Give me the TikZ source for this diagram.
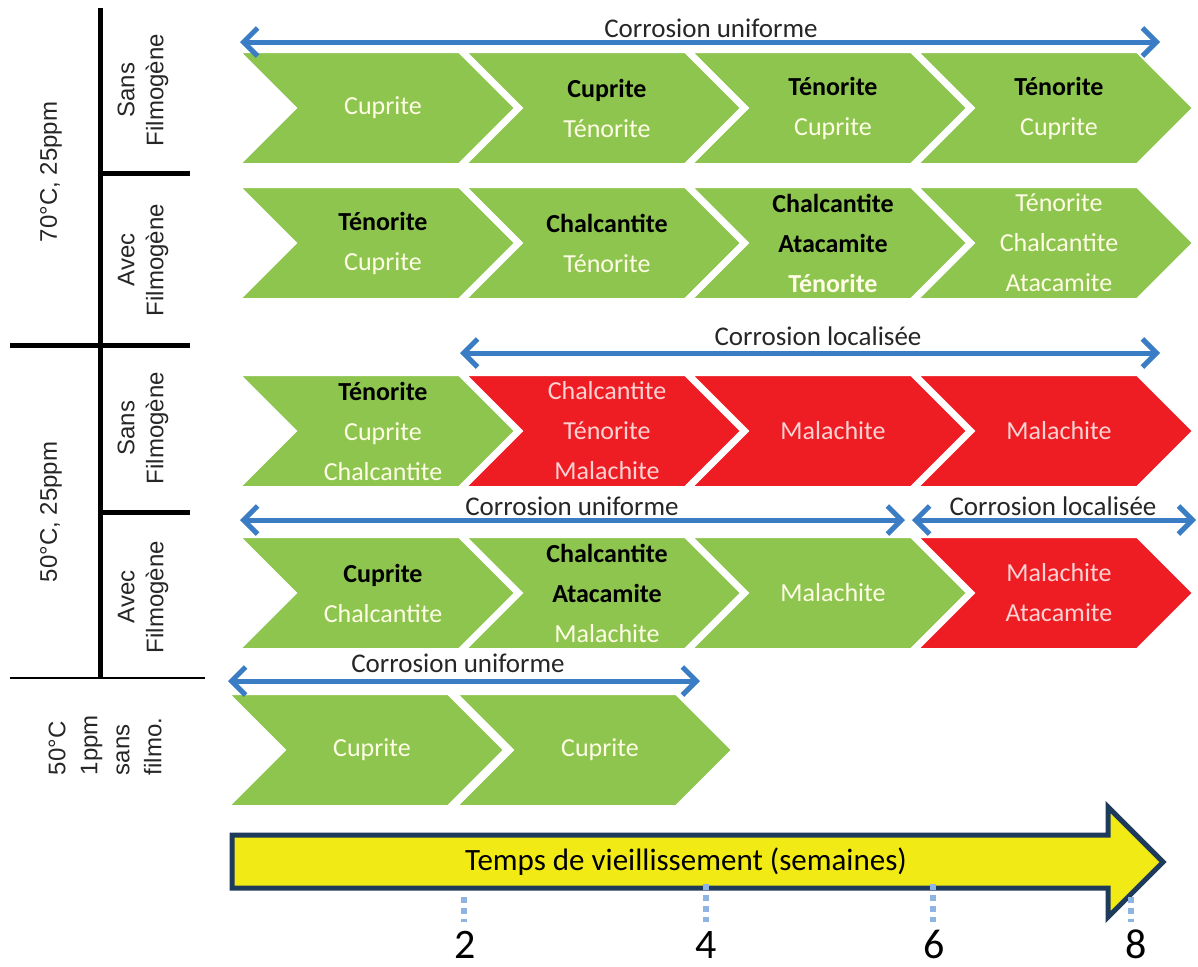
\documentclass[tikz,border=0pt]{standalone}
\usepackage{fontspec}
\setmainfont{Carlito}
\newfontfamily\arialf{Liberation Sans}
\usetikzlibrary{arrows.meta}
\definecolor{chgreen}{HTML}{8DC54F}
\definecolor{chred}{HTML}{EE1D23}
\definecolor{arblue}{HTML}{3B7DC4}
\definecolor{tickblue}{HTML}{8EB4E3}
\definecolor{axyellow}{HTML}{F2EA15}
\definecolor{axnavy}{HTML}{1F3B5C}
\definecolor{paletxt}{HTML}{FFFDE6}
\definecolor{sidegray}{HTML}{262626}

% chevron: left x, centre y, colour
\newcommand\chev[3]{\filldraw[fill=#3,draw=white,line width=1pt]
  (#1,#2-56)--++(219,0)--++(56,56)--++(-56,56)--++(-219,0)--++(56,-56)--cycle;}
\newcommand\bk[1]{{\color{black}\bfseries #1}}

\begin{document}
\begin{tikzpicture}[x=.5pt,y=-.5pt,line width=1pt,
  chtxt/.style={align=center,text=paletxt,font=\fontsize{13}{20}\selectfont},
  redtxt/.style={chtxt,text=white!80!chred},
  side/.style={rotate=90,align=center,text=sidegray,font=\arialf\fontsize{12}{14.5}\selectfont},
  span/.style={arblue,line width=2.5pt,{Straight Barb[length=7pt,width=14pt]}-{Straight Barb[length=7pt,width=14pt]}},
  spanlbl/.style={anchor=base,text=black!85,font=\fontsize{13.5}{16}\selectfont},
  week/.style={anchor=base,inner sep=0pt,font=\fontsize{21}{24}\selectfont}]
\useasboundingbox (0,0) rectangle (1198,966);

% left frame
\draw[line width=2.5pt] (100,8)--(100,678);
\draw[line width=2.5pt] (100,173)--(190,173);
\draw[line width=2.5pt] (10,345)--(190,345);
\draw[line width=2.5pt] (100,512)--(190,512);
\draw[line width=1.2pt] (10,678)--(205,678);
\node[side] (t70) at (51,172) {70°C, 25ppm};
\node[side] (s70) at (143,90) {Sans\\Filmogène};
\node[side] (a70) at (143,260) {Avec\\Filmogène};
\node[side] (t50) at (51,512) {50°C, 25ppm};
\node[side] (s50) at (143,428) {Sans\\Filmogène};
\node[side] (a50) at (143,597) {Avec\\Filmogène};
\node[side,align=left,font=\arialf\fontsize{12}{16}\selectfont] (t1ppm) at (105,745) {50°C\\1ppm\\sans\\filmo.};

% 70C sans
\chev{240}{108}{chgreen}\chev{466}{108}{chgreen}\chev{692}{108}{chgreen}\chev{918}{108}{chgreen}
\node[chtxt] (sa1) at (383,108) {Cuprite};
\node[chtxt] (sa2) at (607,108) {\bk{Cuprite}\\Ténorite};
\node[chtxt] (sa3) at (833,108) {\bk{Ténorite}\\Cuprite};
\node[chtxt] (sa4) at (1059,108) {\bk{Ténorite}\\Cuprite};

% 70C avec
\chev{240}{243}{chgreen}\chev{466}{243}{chgreen}\chev{692}{243}{chgreen}\chev{918}{243}{chgreen}
\node[chtxt] (av1) at (383,243) {\bk{Ténorite}\\Cuprite};
\node[chtxt] (av2) at (607,243) {\bk{Chalcantite}\\Ténorite};
\node[chtxt] (av3) at (833,243) {\bk{Chalcantite}\\\bk{Atacamite}\\\textbf{Ténorite}};
\node[chtxt] (av4) at (1059,243) {Ténorite\\Chalcantite\\Atacamite};

% 50C sans
\chev{240}{431}{chgreen}\chev{466}{431}{chred}\chev{692}{431}{chred}\chev{918}{431}{chred}
\node[chtxt] (sb1) at (383,431) {\bk{Ténorite}\\Cuprite\\Chalcantite};
\node[redtxt] (sb2) at (607,431) {Chalcantite\\Ténorite\\Malachite};
\node[redtxt] (sb3) at (833,431) {Malachite};
\node[redtxt] (sb4) at (1059,431) {Malachite};

% 50C avec
\chev{240}{593}{chgreen}\chev{466}{593}{chgreen}\chev{692}{593}{chgreen}\chev{918}{593}{chred}
\node[chtxt] (ab1) at (383,593) {\bk{Cuprite}\\Chalcantite};
\node[chtxt] (ab2) at (607,593) {\bk{Chalcantite}\\\bk{Atacamite}\\Malachite};
\node[chtxt] (ab3) at (833,593) {Malachite};
\node[redtxt] (ab4) at (1059,593) {Malachite\\Atacamite};

% 50C 1ppm
\chev{229}{750}{chgreen}\chev{457}{750}{chgreen}
\node[chtxt] (pp1) at (372,750) {Cuprite};
\node[chtxt] (pp2) at (600,750) {Cuprite};

% corrosion spans
\coordinate (u1l) at (240,42); \coordinate (u1r) at (1160,42);
\draw[span] (u1l)--(u1r);
\node[spanlbl] (u1) at (711,37) {Corrosion uniforme};
\coordinate (l1l) at (460,353); \coordinate (l1r) at (1160,353);
\draw[span] (l1l)--(l1r);
\node[spanlbl] (l1) at (818,345) {Corrosion localisée};
\coordinate (u2l) at (240,520); \coordinate (u2r) at (905,520);
\draw[span] (u2l)--(u2r);
\node[spanlbl] (u2) at (572,515) {Corrosion uniforme};
\coordinate (l2l) at (912,520); \coordinate (l2r) at (1196,520);
\draw[span] (l2l)--(l2r);
\node[spanlbl] (l2) at (1053,515) {Corrosion localisée};
\coordinate (u3l) at (228,681); \coordinate (u3r) at (700,681);
\draw[span] (u3l)--(u3r);
\node[spanlbl] (u3) at (458,672) {Corrosion uniforme};

% time axis
\filldraw[fill=axyellow,draw=axnavy,line width=2.5pt,line join=miter]
  (232,835)--(1108,835)--(1108,807)--(1163,862)--(1108,917)--(1108,888)--(232,888)--cycle;
\node[font=\fontsize{15.5}{18}\selectfont] (axis) at (686,862) {Temps de vieillissement (semaines)};
\draw[tickblue,line width=3pt,dash pattern=on 3pt off 2.5pt] (464,897)--(464,922);
\draw[tickblue,line width=3pt,dash pattern=on 3pt off 2.5pt] (706,884)--(706,922);
\draw[tickblue,line width=3pt,dash pattern=on 3pt off 2.5pt] (933,884)--(933,922);
\draw[tickblue,line width=3pt,dash pattern=on 3pt off 2.5pt] (1131,897)--(1131,922);
\node[week] (w2) at (465,958) {2};
\node[week] (w4) at (706,958) {4};
\node[week] (w6) at (934,958) {6};
\node[week] (w8) at (1136,958) {8};
\end{tikzpicture}
\end{document}
